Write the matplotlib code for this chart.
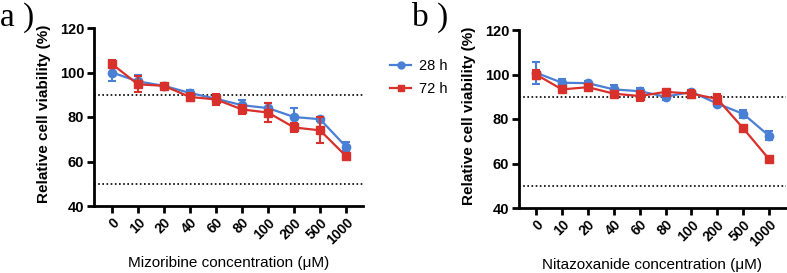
import matplotlib
matplotlib.use("Agg")
import matplotlib.pyplot as plt
from matplotlib.lines import Line2D
import numpy as np

concentrations = ["0", "10", "20", "40", "60", "80", "100", "200", "500", "1000"]

miz_28h = [100.0, 96.0, 94.0, 90.8, 88.2, 85.3, 84.0, 80.0, 79.0, 66.6]
miz_28h_err = [4.0, 2.7, 0.8, 1.2, 1.2, 2.4, 2.5, 4.2, 1.0, 2.0]
miz_72h = [103.8, 94.7, 94.0, 89.0, 87.9, 83.4, 82.0, 75.3, 74.0, 62.4]
miz_72h_err = [1.8, 3.6, 0.8, 1.6, 2.5, 2.1, 4.2, 2.0, 5.8, 1.2]

nit_28h = [100.8, 96.3, 96.1, 93.3, 92.5, 90.0, 92.2, 86.9, 82.3, 72.4]
nit_28h_err = [5.0, 1.6, 0.8, 1.8, 1.3, 1.4, 1.0, 1.2, 1.8, 2.0]
nit_72h = [100.0, 93.3, 94.3, 91.4, 90.3, 92.2, 91.4, 89.0, 75.8, 61.9]
nit_72h_err = [1.9, 1.2, 1.3, 1.1, 2.3, 1.0, 1.8, 2.2, 1.2, 1.2]

series_labels = ["28 h", "72 h"]
ref_lines = [90, 50]
yticks = [40, 60, 80, 100, 120]

BLUE = "#4A7FD6"
RED = "#D8302A"

plt.rcParams['font.family'] = ['Liberation Sans', 'DejaVu Sans']

fig = plt.figure(figsize=(7.87, 2.73), dpi=100)
W, H = 787, 273

def make_axes(l, r, t, b):
    return fig.add_axes([l / W, 1 - b / H, (r - l) / W, (b - t) / H])

axA = make_axes(94, 363, 28, 206)
axB = make_axes(519, 786, 30, 208)

def draw(ax, d28, e28, d72, e72, xlabel, xlo, xhi):
    x = np.arange(len(concentrations))
    for yv in ref_lines:
        ax.axhline(yv, color="black", ls=(0, (1, 1.5)), lw=1.2, zorder=1)
    ax.errorbar(x, d28, yerr=e28, color=BLUE, marker="o", ms=6, lw=1.6,
                capsize=3.2, elinewidth=1.5, capthick=1.5, zorder=3)
    ax.errorbar(x, d72, yerr=e72, color=RED, marker="s", ms=6, lw=1.6,
                capsize=3.2, elinewidth=1.5, capthick=1.5, zorder=4)
    ax.set_xlim(xlo, xhi)
    ax.set_ylim(40, 120)
    ax.set_yticks(yticks)
    ax.set_xticks(x)
    ax.set_xticklabels(concentrations, rotation=45, ha="right", va="top",
                       rotation_mode="anchor", fontweight="bold", fontsize=10)
    ax.set_yticklabels([str(v) for v in yticks], fontweight="bold", fontsize=10.5)
    for s in ["top", "right"]:
        ax.spines[s].set_visible(False)
    for s in ["left", "bottom"]:
        ax.spines[s].set_linewidth(2)
    ax.tick_params(direction="out", length=5, width=2, pad=2)
    ax.set_ylabel("Relative cell viability (%)", fontweight="bold", fontsize=11)
    ax.set_xlabel(xlabel, fontsize=11)
    ax.yaxis.set_label_coords(-0.16, 0.52)
    ax.xaxis.set_label_coords(0.5, -0.28)

draw(axA, miz_28h, miz_28h_err, miz_72h, miz_72h_err,
     "Mizoribine concentration (\u03bcM)", -0.69, 9.65)
draw(axB, nit_28h, nit_28h_err, nit_72h, nit_72h_err,
     "Nitazoxanide concentration (\u03bcM)", -0.66, 9.65)

handles = [Line2D([], [], color=BLUE, marker="o", ms=5, lw=1.6),
           Line2D([], [], color=RED, marker="s", ms=5, lw=1.6)]
fig.legend(handles, series_labels, loc="upper left", bbox_to_anchor=(383 / W, 1 - 52 / H),
           frameon=False, fontsize=10.5, handlelength=1.4, handletextpad=0.6,
           labelspacing=0.6, borderpad=0)

fig.text(0 / W, 1 - 26 / H, "a )", family=["Liberation Serif", "DejaVu Serif"],
         fontsize=24, ha="left", va="baseline")
fig.text(412 / W, 1 - 26 / H, "b )", family=["Liberation Serif", "DejaVu Serif"],
         fontsize=24, ha="left", va="baseline")

fig.savefig("out.png", dpi=100)
